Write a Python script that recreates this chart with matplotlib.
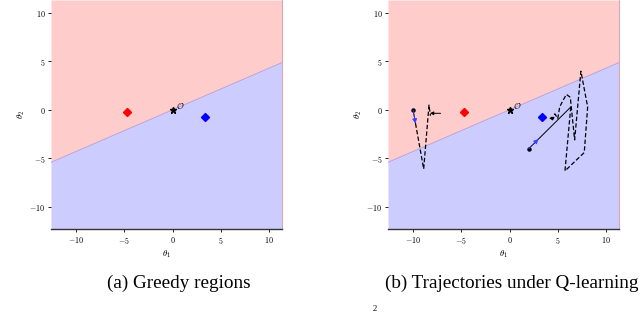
import numpy as np
import matplotlib
matplotlib.use('Agg')
import matplotlib.pyplot as plt

plt.rcParams['mathtext.fontset'] = 'cm'
plt.rcParams['font.family'] = ['DejaVu Serif']

# greedy boundary theta2 = slope * theta1
slope = 0.43
x_range = [-12.6, 11.35]
y_range = [-12.3, 11.35]

red_pt = (-4.7, -0.2)
blue_pt = (3.4, -0.7)
origin = (0.0, 0.0)

xticks = [-10, -5, 0, 5, 10]
yticks = [-10, -5, 0, 5, 10]

# trajectory 1 (starts at (-10, 0))
traj1_x = [-10.0, -8.9, -8.35, -8.2]
traj1_y = [0.0, -6.1, 0.5, -0.6]
arrow1 = ((-7.15, -0.35), (-8.25, -0.35))

# trajectory 2 (starts at (2, -4))
traj2_x = [2.0, 6.35, 5.75, 7.75, 8.1, 7.4, 6.75, 6.3, 5.9, 5.5, 5.2, 5.0, 4.7, 4.55, 4.3]
traj2_y = [-4.0, 0.3, -6.3, -4.4, 0.3, 4.0, -3.1, 1.3, 1.6, 0.9, 0.3, -0.9, -0.4, -0.9, -0.75]

captions = ['(a) Greedy regions', '(b) Trajectories under Q-learning']

fig = plt.figure(figsize=(6.4, 3.12), dpi=100)
ax_a = fig.add_axes([51/640, 1 - 229/312, 231/640, 229/312])
ax_b = fig.add_axes([388/640, 1 - 229/312, 231/640, 229/312])


def draw_regions(ax):
    xs = np.linspace(x_range[0], x_range[1], 50)
    ax.fill_between(xs, slope * xs, y_range[1], color='#ffcccc', lw=0)
    ax.fill_between(xs, y_range[0], slope * xs, color='#ccccff', lw=0)
    ax.plot(xs, slope * xs, color='#b4a6e6', lw=0.8)
    ax.plot(*red_pt, marker='D', color='red', ms=3.6)
    ax.plot(*blue_pt, marker='D', color='blue', ms=3.6)
    ax.plot(*origin, marker='*', color='black', ms=5)
    ax.text(origin[0] + 0.35, origin[1] + 0.05, r'$\mathcal{O}$', fontsize=6)
    ax.set_xlim(x_range)
    ax.set_ylim(y_range)
    ax.set_xticks(xticks)
    ax.set_yticks(yticks)
    ax.set_xticklabels([f'${t}$' for t in xticks])
    ax.set_yticklabels([f'${t}$' for t in yticks])
    ax.tick_params(labelsize=5.8, length=2, width=0.6, pad=2)
    ax.set_xlabel(r'$\theta_1$', fontsize=6.5, labelpad=2)
    ax.set_ylabel(r'$\theta_2$', fontsize=6.5, labelpad=2)
    ax.spines['top'].set_visible(False)
    ax.spines['left'].set_visible(False)
    ax.spines['right'].set_color('#d8a8b8')
    ax.spines['right'].set_linewidth(0.8)
    ax.spines['bottom'].set_color('#333333')
    ax.spines['bottom'].set_linewidth(1.0)


draw_regions(ax_a)
draw_regions(ax_b)


def draw_traj(ax, tx, ty, solid_first):
    mx = tx[0] + 0.23 * (tx[1] - tx[0])
    my = ty[0] + 0.23 * (ty[1] - ty[0])
    dash = (0, (3.5, 1.8))
    if solid_first:
        ax.plot(tx[:2], ty[:2], color='black', lw=0.7)
        ax.plot(tx[1:], ty[1:], color='black', lw=0.9, ls=dash)
    else:
        ax.plot([tx[0], mx], [ty[0], my], color='black', lw=0.7)
        ax.plot([mx] + tx[1:], [my] + ty[1:], color='black', lw=0.9, ls=dash)
    ax.plot(tx[0], ty[0], 'o', color='black', ms=2.2)
    ax.annotate('', xy=(mx, my), xytext=(tx[0], ty[0]),
                arrowprops=dict(arrowstyle='-|>', color='#3344ff', lw=0.6,
                                mutation_scale=7, shrinkA=0, shrinkB=0))


draw_traj(ax_b, traj1_x, traj1_y, False)
draw_traj(ax_b, traj2_x, traj2_y, True)
ax_b.annotate('', xy=arrow1[1], xytext=arrow1[0],
              arrowprops=dict(arrowstyle='-|>', color='black', lw=0.7,
                              mutation_scale=5, shrinkA=0, shrinkB=0))
ax_b.annotate('', xy=(traj2_x[-1] - 0.2, traj2_y[-1] - 0.1), xytext=(traj2_x[-2], traj2_y[-2]),
              arrowprops=dict(arrowstyle='-|>', color='black', lw=0.7,
                              mutation_scale=5, shrinkA=0, shrinkB=0))

fig.text(179/640, 1 - 283/312, captions[0], fontsize=13.8, family='Liberation Serif',
         ha='center', va='center')
fig.text(385/640, 1 - 283/312, captions[1], fontsize=13.8, family='Liberation Serif',
         ha='left', va='center')
fig.text(375/640, 1 - 309/312, '2', fontsize=6, family='Liberation Serif',
         ha='center', va='center')

fig.savefig('out.png', dpi=100)
